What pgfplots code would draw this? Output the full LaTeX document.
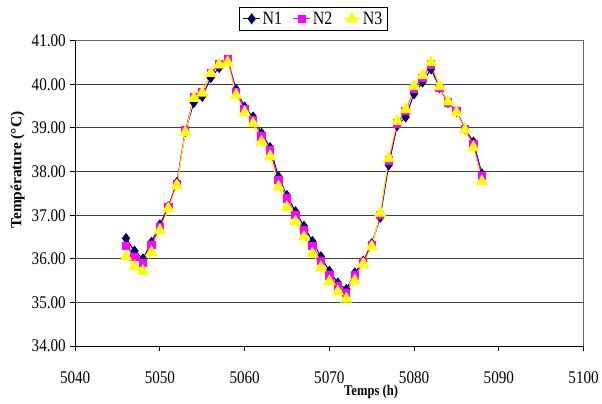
\documentclass[border=0pt]{standalone}
\usepackage{fontspec}
\setmainfont{Liberation Serif}[FakeStretch=0.85]
\newfontfamily\ylabfont{Liberation Serif}
\usepackage{pgfplots}
\usepackage{pgfplotstable}
\pgfplotsset{compat=1.18}
\pgfplotstableread{
h N1 N2 N3
5046 36.47 36.30 36.05
5047 36.18 36.05 35.82
5048 36.00 35.90 35.72
5049 36.38 36.32 36.15
5050 36.78 36.72 36.65
5051 37.20 37.18 37.15
5052 37.75 37.72 37.68
5053 38.92 38.95 38.90
5054 39.58 39.70 39.68
5055 39.72 39.82 39.80
5056 40.15 40.25 40.25
5057 40.38 40.45 40.45
5058 40.55 40.57 40.50
5059 39.88 39.82 39.75
5060 39.48 39.43 39.35
5061 39.25 39.18 39.10
5062 38.88 38.80 38.68
5063 38.55 38.48 38.35
5064 37.88 37.80 37.65
5065 37.45 37.38 37.18
5066 37.08 37.00 36.85
5067 36.75 36.65 36.50
5068 36.40 36.30 36.12
5069 36.05 35.95 35.80
5070 35.72 35.62 35.48
5071 35.45 35.38 35.25
5072 35.30 35.22 35.08
5073 35.68 35.62 35.50
5074 35.95 35.92 35.88
5075 36.35 36.32 36.28
5076 36.95 37.00 37.05
5077 38.15 38.25 38.30
5078 39.05 39.10 39.15
5079 39.25 39.38 39.42
5080 39.78 39.90 39.95
5081 40.05 40.15 40.20
5082 40.35 40.45 40.50
5083 39.92 39.92 39.95
5084 39.58 39.58 39.60
5085 39.38 39.38 39.35
5086 38.98 38.98 38.95
5087 38.68 38.62 38.55
5088 37.95 37.90 37.77
}\data
\definecolor{navyc}{RGB}{0,0,102}
\definecolor{magc}{RGB}{255,0,255}
\definecolor{yelc}{RGB}{255,255,0}
\begin{document}
\begin{tikzpicture}
\path (-76bp,-58bp) rectangle (526bp,350bp);
\begin{axis}[
  at={(0,0)}, anchor=origin,
  scale only axis, width=514bp, height=309bp,
  xmin=5040, xmax=5100, ymin=34, ymax=41,
  xtick={5040,5050,...,5100},
  ytick={34,35,...,41},
  yticklabel={\pgfmathprintnumber[fixed,fixed zerofill,precision=2]{\tick}},
  /pgf/number format/assume math mode=true,
  xticklabel style={font=\fontsize{18bp}{20bp}\selectfont, yshift=-17bp},
  yticklabel style={font=\fontsize{18bp}{20bp}\selectfont, xshift=-1bp},
  scaled ticks=false,
  x tick label style={/pgf/number format/1000 sep={}},
  tick align=outside, tick pos=left,
  major tick length=5bp,
  tick style={black, line width=1pt},
  ymajorgrids, grid style={black!75, line width=1.2pt},
  axis line style={black!60, line width=1pt},
  xlabel={\bfseries Temps (h)}, ylabel={\bfseries Température (°C)},
  xlabel style={font=\fontsize{15bp}{16bp}\selectfont, at={(axis description cs:0.582,-0.149)}, anchor=center},
  ylabel style={font=\ylabfont\fontsize{15.6bp}{17bp}\selectfont, at={(axis description cs:-0.113,0.576)}, anchor=center},
  legend columns=3,
  legend style={at={(0.469,1.110)}, anchor=north, draw=black, line width=0.8pt,
    font=\fontsize{19bp}{21bp}\selectfont, inner xsep=3bp, inner ysep=2.5bp,
    /tikz/every even column/.append style={column sep=9bp}},
  legend cell align=left,
]
\addplot[navyc, line width=1pt, mark=diamond*, mark size=4.8bp, mark options={fill=navyc, draw=navyc}] table[x=h,y=N1]{\data};
\addlegendentry{N1}
\addplot[magc, line width=1pt, mark=square*, mark size=3.7bp, mark options={fill=magc, draw=magc}] table[x=h,y=N2]{\data};
\addlegendentry{N2}
\addplot[yelc!90!orange, line width=1pt, mark=triangle*, mark size=6.3bp, mark options={fill=yelc, draw=yelc}] table[x=h,y=N3]{\data};
\addlegendentry{N3}
\draw[black, line width=1.2pt] (rel axis cs:0,0) -- (rel axis cs:1,0);
\draw[black, line width=1.2pt] (rel axis cs:0,0) -- (rel axis cs:0,1);
\end{axis}
\end{tikzpicture}
\end{document}
